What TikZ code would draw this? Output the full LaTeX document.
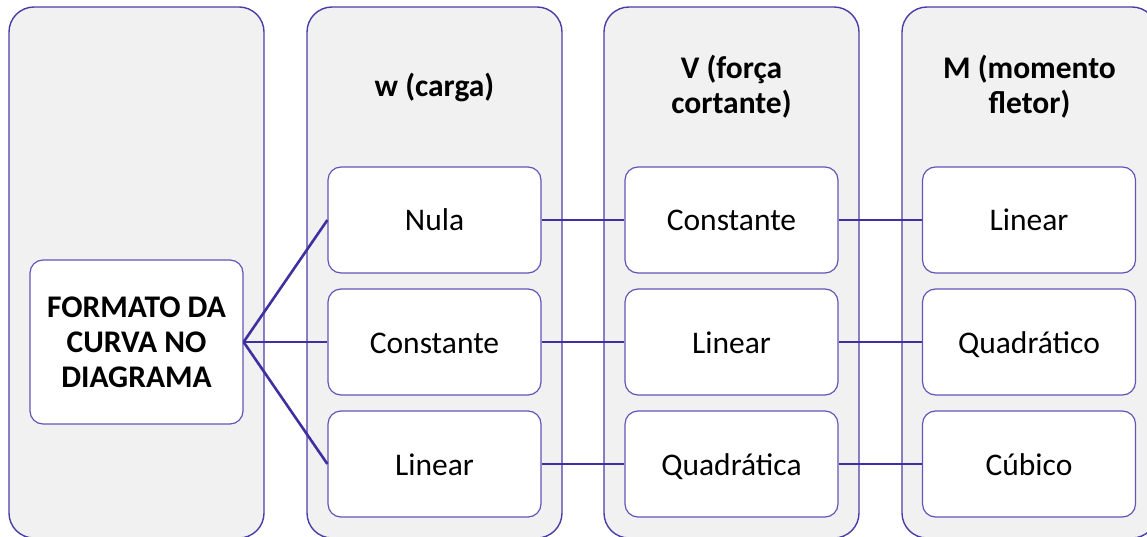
\documentclass[tikz,border=0pt]{standalone}
\usepackage{fontspec}
\setmainfont{Carlito}
\definecolor{colfill}{HTML}{F1F1F1}
\definecolor{bordc}{HTML}{4B3DA8}
\definecolor{innerb}{HTML}{6355B8}
\definecolor{linec}{HTML}{3F2FA0}
\tikzset{
  column/.style={draw=bordc, line width=1.4pt, fill=colfill, rounded corners=25pt,
    minimum width=255pt, minimum height=531pt, inner sep=0pt},
  box/.style={draw=innerb, line width=1.2pt, fill=white, rounded corners=13pt,
    minimum width=213pt, minimum height=106pt, inner sep=0pt, align=center,
    font=\fontsize{31.5}{35}\selectfont},
  cell/.style={box, text height=25pt, text depth=3pt},
  head/.style={align=center, font=\fontsize{31.5}{35}\selectfont\bfseries, inner sep=0pt},
  conn/.style={draw=linec, line width=2.6pt}
}
\begin{document}
\begin{tikzpicture}[x=1pt,y=-1pt]
\useasboundingbox (0,0) rectangle (1147,537);
\clip (0,0) rectangle (1147,537);
\node[column] (c1) at (136.5,272.5) {};
\node[column] (c2) at (434.5,272.5) {};
\node[column] (c3) at (731.5,272.5) {};
\node[column] (c4) at (1029.5,272.5) {};
\node[head] (h2) at (434.5,87) {w (carga)};
\node[head] (h3) at (731.5,87) {V (força\\cortante)};
\node[head] (h4) at (1029.5,87) {M (momento\\fletor)};
\node[box, minimum height=164pt, font=\fontsize{31.5}{35}\selectfont\bfseries] (root) at (136.5,342) {FORMATO DA\\CURVA NO\\DIAGRAMA};
\node[cell] (w1) at (434.5,220) {Nula};
\node[cell] (w2) at (434.5,342) {Constante};
\node[cell] (w3) at (434.5,464) {Linear};
\node[cell] (v1) at (731.5,220) {Constante};
\node[cell] (v2) at (731.5,342) {Linear};
\node[cell] (v3) at (731.5,464) {Quadrática};
\node[cell] (m1) at (1029,220) {Linear};
\node[cell] (m2) at (1029,342) {Quadrático};
\node[cell] (m3) at (1029,464) {Cúbico};
\draw[conn] (root.east) -- (w1.west);
\draw[conn] (root.east) -- (w2.west);
\draw[conn] (root.east) -- (w3.west);
\draw[conn] (w1.east) -- (v1.west);
\draw[conn] (w2.east) -- (v2.west);
\draw[conn] (w3.east) -- (v3.west);
\draw[conn] (v1.east) -- (m1.west);
\draw[conn] (v2.east) -- (m2.west);
\draw[conn] (v3.east) -- (m3.west);
\end{tikzpicture}
\end{document}
